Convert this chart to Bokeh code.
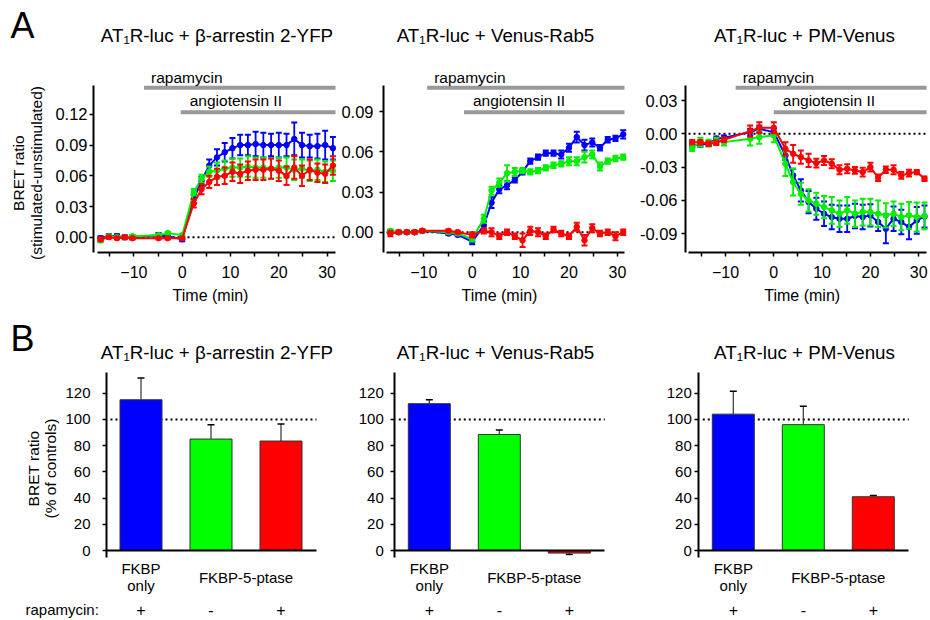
import math
from bokeh.plotting import figure
from bokeh.layouts import column, row
from bokeh.models import ColumnDataSource, FixedTicker, NumeralTickFormatter, Range1d, LinearAxis
from bokeh.embed import file_html
from bokeh.resources import INLINE
from bokeh.core.properties import value

FONT = "Liberation Sans"

# ---------------- data ----------------
TIME = [-16.9, -15.2, -13.5, -11.9, -10.3, -4.9, -3.0, 0.0,
        2.4, 4.0, 5.6, 7.2, 8.8, 10.4, 12.0, 13.6, 15.2, 16.8,
        18.4, 20.0, 21.6, 23.2, 24.8, 26.4, 28.0, 29.6, 31.2]

PANEL_TITLES = ["AT\u2081R-luc + \u03b2-arrestin 2-YFP", "AT\u2081R-luc + Venus-Rab5", "AT\u2081R-luc + PM-Venus"]
SERIES_COLORS = ["#0000FF", "#00EE00", "#FF0000"]
BAR_COLORS = ["#0000FF", "#00FF00", "#FF0000"]

# beta-arrestin 2
ARR_BLUE = [-0.001, 0.001, 0.001, 0.000, 0.000, 0.002, 0.001, -0.002,
            0.0375, 0.055, 0.070, 0.078, 0.083, 0.087, 0.090, 0.090, 0.091, 0.090,
            0.090, 0.090, 0.090, 0.096, 0.090, 0.089, 0.089, 0.090, 0.087]
ARR_BLUE_ERR = [0.002, 0.002, 0.002, 0.002, 0.002, 0.002, 0.002, 0.002,
                0.004, 0.004, 0.006, 0.008, 0.009, 0.010, 0.010, 0.010, 0.012, 0.012,
                0.011, 0.012, 0.011, 0.016, 0.012, 0.011, 0.012, 0.014, 0.011]
ARR_GREEN = [-0.003, 0.001, 0.000, 0.000, 0.001, 0.002, 0.004, 0.002,
             0.044, 0.057, 0.064, 0.065, 0.067, 0.068, 0.068, 0.069, 0.068, 0.068,
             0.067, 0.068, 0.068, 0.066, 0.067, 0.065, 0.066, 0.064, 0.065]
ARR_GREEN_ERR = [0.002, 0.001, 0.001, 0.001, 0.001, 0.001, 0.001, 0.001,
                 0.003, 0.004, 0.005, 0.008, 0.008, 0.009, 0.009, 0.010, 0.010, 0.010,
                 0.010, 0.010, 0.010, 0.010, 0.009, 0.010, 0.010, 0.010, 0.010]
ARR_RED = [-0.002, 0.000, -0.001, 0.000, -0.001, -0.001, -0.001, -0.001,
           0.033, 0.047, 0.054, 0.059, 0.060, 0.064, 0.062, 0.065, 0.066, 0.066,
           0.067, 0.065, 0.060, 0.068, 0.060, 0.066, 0.063, 0.062, 0.070]
ARR_RED_ERR = [0.002, 0.001, 0.001, 0.001, 0.001, 0.001, 0.001, 0.001,
               0.004, 0.005, 0.006, 0.008, 0.008, 0.009, 0.009, 0.009, 0.010, 0.010,
               0.010, 0.010, 0.009, 0.011, 0.010, 0.010, 0.009, 0.009, 0.009]

# Venus-Rab5
RAB_BLUE = [0.000, 0.000, 0.000, 0.000, 0.001, -0.001, -0.002, -0.007,
            0.005, 0.022, 0.032, 0.035, 0.039, 0.045, 0.053, 0.056, 0.059, 0.059,
            0.058, 0.063, 0.071, 0.065, 0.067, 0.063, 0.069, 0.070, 0.073]
RAB_BLUE_ERR = [0.001, 0.001, 0.001, 0.001, 0.001, 0.001, 0.001, 0.002,
                0.003, 0.004, 0.003, 0.003, 0.002, 0.002, 0.002, 0.002, 0.002, 0.002,
                0.003, 0.003, 0.004, 0.004, 0.003, 0.002, 0.002, 0.002, 0.003]
RAB_GREEN = [0.001, 0.000, 0.000, 0.000, 0.001, 0.000, -0.001, -0.005,
             0.010, 0.031, 0.037, 0.044, 0.045, 0.046, 0.045, 0.046, 0.048, 0.050,
             0.051, 0.053, 0.053, 0.056, 0.058, 0.049, 0.053, 0.055, 0.056]
RAB_GREEN_ERR = [0.001, 0.001, 0.001, 0.001, 0.001, 0.001, 0.001, 0.002,
                 0.003, 0.003, 0.003, 0.006, 0.003, 0.002, 0.002, 0.002, 0.002, 0.002,
                 0.002, 0.003, 0.003, 0.004, 0.003, 0.003, 0.002, 0.002, 0.002]
RAB_RED = [-0.001, 0.000, 0.000, 0.000, 0.001, 0.001, 0.000, -0.002,
           0.001, 0.000, -0.003, 0.000, -0.003, -0.006, 0.001, 0.000, -0.003, 0.002,
           -0.001, -0.003, 0.004, -0.006, 0.003, -0.001, 0.000, -0.003, 0.000]
RAB_RED_ERR = [0.002, 0.001, 0.001, 0.001, 0.001, 0.001, 0.001, 0.002,
               0.002, 0.003, 0.002, 0.002, 0.002, 0.005, 0.003, 0.003, 0.002, 0.002,
               0.002, 0.002, 0.003, 0.004, 0.003, 0.002, 0.002, 0.003, 0.002]

# PM-Venus
PM_BLUE = [-0.0105, -0.0096, -0.009, -0.0045, -0.0036, 0.0015, 0.0045, 0.0015,
           -0.0195, -0.0375, -0.051, -0.0615, -0.0675, -0.072, -0.075, -0.0765, -0.0765, -0.074,
           -0.075, -0.0735, -0.0795, -0.0855, -0.0765, -0.0795, -0.084, -0.078, -0.0745]
PM_BLUE_ERR = [0.002, 0.002, 0.002, 0.002, 0.002, 0.003, 0.003, 0.003,
               0.004, 0.006, 0.010, 0.010, 0.010, 0.011, 0.011, 0.012, 0.012, 0.011,
               0.011, 0.010, 0.008, 0.013, 0.011, 0.011, 0.011, 0.012, 0.010]
PM_GREEN = [-0.0126, -0.0075, -0.0084, -0.0066, -0.0075, -0.0045, -0.003, -0.0015,
            -0.027, -0.0435, -0.054, -0.060, -0.063, -0.066, -0.069, -0.072, -0.069, -0.072,
            -0.0705, -0.0705, -0.072, -0.0735, -0.072, -0.075, -0.0735, -0.075, -0.074]
PM_GREEN_ERR = [0.003, 0.004, 0.003, 0.003, 0.003, 0.006, 0.006, 0.006,
                0.011, 0.012, 0.010, 0.010, 0.010, 0.010, 0.012, 0.012, 0.012, 0.012,
                0.012, 0.012, 0.012, 0.011, 0.011, 0.012, 0.012, 0.013, 0.012]
PM_RED = [-0.0075, -0.0075, -0.009, -0.008, -0.0054, 0.0024, 0.0054, 0.0054,
          -0.0135, -0.018, -0.021, -0.024, -0.0264, -0.024, -0.027, -0.0324, -0.0315, -0.033,
          -0.0345, -0.030, -0.0396, -0.0324, -0.0324, -0.0375, -0.0354, -0.0345, -0.0405]
PM_RED_ERR = [0.002, 0.002, 0.002, 0.002, 0.002, 0.005, 0.005, 0.005,
              0.006, 0.008, 0.006, 0.006, 0.004, 0.004, 0.004, 0.004, 0.004, 0.003,
              0.004, 0.004, 0.003, 0.003, 0.004, 0.003, 0.003, 0.002, 0.002]

SERIES = [
    [(ARR_BLUE, ARR_BLUE_ERR), (ARR_GREEN, ARR_GREEN_ERR), (ARR_RED, ARR_RED_ERR)],
    [(RAB_BLUE, RAB_BLUE_ERR), (RAB_GREEN, RAB_GREEN_ERR), (RAB_RED, RAB_RED_ERR)],
    [(PM_BLUE, PM_BLUE_ERR), (PM_GREEN, PM_GREEN_ERR), (PM_RED, PM_RED_ERR)],
]

# treatment start times (min)
RAPA_START = [-7.9, -9.3, -7.9]
ANG_START = [-0.3, -1.7, 0.0]

# bar charts (% of controls)
BAR_X = [1, 2, 3]
BAR_ARR = [115.0, 85.0, 83.5]
BAR_ARR_ERR = [16.5, 11.0, 13.0]
BAR_RAB = [112.0, 88.5, -2.0]
BAR_RAB_ERR = [3.0, 3.5, 1.0]
BAR_PM = [104.0, 96.0, 41.0]
BAR_PM_ERR = [17.5, 14.0, 1.0]
BARS = [(BAR_ARR, BAR_ARR_ERR), (BAR_RAB, BAR_RAB_ERR), (BAR_PM, BAR_PM_ERR)]
RAPA_SIGNS = ["+", "-", "+"]
CONTROL_LEVEL = 100

TOP_YTICKS = [[0, 0.03, 0.06, 0.09, 0.12], [0, 0.03, 0.06, 0.09], [-0.09, -0.06, -0.03, 0, 0.03]]
BOT_YTICKS = [0, 20, 40, 60, 80, 100, 120]

# ---------------- layout (page pixels; the page starts at 0,0) ----------------
TOP_Y, TOP_H = 0, 306
TOP_CFG = [
    dict(left=0, W=340, X0=181.7, sx=4.83, Y0=236.7, sy=1023.3, ax=93, ax_top=85, xb=(97, 335), so=2,
         title_x=216.5, time_x=210),
    dict(left=340, W=288, X0=471.7, sx=4.84, Y0=231.7, sy=1340.0, ax=383, ax_top=85, xb=(386, 624), so=6,
         title_x=495, time_x=499),
    dict(left=628, W=300, X0=773.3, sx=4.83, Y0=133.3, sy=1110.0, ax=685, ax_top=85, xb=(688, 926), so=4,
         title_x=804, time_x=801.7),
]
AX_BOTTOM = 252
BOT_Y, BOT_H = 306, 312
BOT_CFG = [
    dict(left=0, W=340, X0=70.5, so=12, title_x=216.5),
    dict(left=340, W=288, X0=358.8, so=7, title_x=495),
    dict(left=628, W=300, X0=662.8, so=3, title_x=804),
]
BOT_SX, BOT_Y0, BOT_SY = 70.0, 550.0, 1.311


class Map:
    def __init__(self, X0, sx, Y0, sy):
        self.X0, self.sx, self.Y0, self.sy = X0, sx, Y0, sy

    def x(self, X):
        return (X - self.X0) / self.sx

    def y(self, Y):
        return (self.Y0 - Y) / self.sy


def base_fig(m, left, W, top, H):
    p = figure(width=W, height=H,
               x_range=Range1d(m.x(left), m.x(left + W)),
               y_range=Range1d(m.y(top + H), m.y(top)),
               output_backend="svg", toolbar_location=None,
               x_axis_location=None, y_axis_location=None,
               min_border_left=0, min_border_right=0, min_border_top=0, min_border_bottom=0)
    p.outline_line_color = None
    p.xgrid.visible = False
    p.ygrid.visible = False
    p.background_fill_color = "white"
    p.border_fill_color = "white"
    return p


def style_axis(ax, size, so):
    ax.axis_line_width = 2
    ax.axis_line_color = "black"
    ax.major_tick_line_width = 1.5
    ax.minor_tick_line_width = 1.5
    ax.major_tick_in = 0
    ax.major_tick_out = 4
    ax.minor_tick_in = 0
    ax.minor_tick_out = 4
    ax.major_label_text_font = FONT
    ax.major_label_text_font_size = size
    ax.major_label_text_color = "black"
    ax.major_label_standoff = so


def txt(p, x, y, text, size="15px", align="center", angle=0.0):
    p.text(x=[x], y=[y], text=[text], text_font=value(FONT), text_font_size=size,
           text_align=align, text_baseline="middle", angle=angle, text_color="black")


tops = []
for i, c in enumerate(TOP_CFG):
    m = Map(c["X0"], c["sx"], c["Y0"], c["sy"])
    p = base_fig(m, c["left"], c["W"], TOP_Y, TOP_H)

    xa = LinearAxis(fixed_location=m.y(AX_BOTTOM))
    style_axis(xa, "16px", 9)
    xa.ticker = FixedTicker(ticks=[-10, 0, 10, 20, 30], minor_ticks=[-15, -5, 5, 15, 25])
    xa.bounds = (m.x(c["xb"][0]), m.x(c["xb"][1]))
    p.add_layout(xa, "below")

    ya = LinearAxis(fixed_location=m.x(c["ax"]))
    style_axis(ya, "16.5px", c["so"])
    ya.ticker = FixedTicker(ticks=TOP_YTICKS[i], minor_ticks=[])
    ya.formatter = NumeralTickFormatter(format="0.00")
    ya.bounds = (m.y(AX_BOTTOM), m.y(c["ax_top"]))
    p.add_layout(ya, "left")

    x_end = m.x(c["xb"][1])
    x_begin = m.x(c["xb"][0])
    # zero reference line
    p.segment(x0=[x_begin], y0=[0], x1=[x_end], y1=[0], line_color="black", line_width=2,
              line_dash="2 3")

    # treatment bars
    y_rapa = m.y(87.3)
    y_ang = m.y(111.7)
    p.segment(x0=[RAPA_START[i], ANG_START[i]], y0=[y_rapa, y_ang], x1=[x_end, x_end], y1=[y_rapa, y_ang],
              line_color="#999999", line_width=4, line_cap="butt")
    txt(p, RAPA_START[i] + 7 / c["sx"], m.y(76.7), "rapamycin", size="15.5px", align="left")
    txt(p, ANG_START[i] + 9 / c["sx"], m.y(100.0), "angiotensin II", size="15.5px", align="left")

    for (vals, errs), col in zip(SERIES[i], SERIES_COLORS):
        lo = [v - e for v, e in zip(vals, errs)]
        hi = [v + e for v, e in zip(vals, errs)]
        src = ColumnDataSource(dict(t=TIME, v=vals, lo=lo, hi=hi))
        p.segment(x0="t", y0="lo", x1="t", y1="hi", source=src, line_color=col, line_width=1.8)
        p.scatter(x="t", y="lo", source=src, marker="dash", size=6, line_color=col, line_width=2)
        p.scatter(x="t", y="hi", source=src, marker="dash", size=6, line_color=col, line_width=2)
        p.line(x="t", y="v", source=src, line_color=col, line_width=2)
        p.scatter(x="t", y="v", source=src, marker="circle", size=5.5, fill_color=col, line_color=col)

    txt(p, m.x(c["title_x"]), m.y(35), PANEL_TITLES[i], size="18.8px")
    txt(p, m.x(c["time_x"]), m.y(295), "Time (min)", size="16px")
    if i == 0:
        txt(p, m.x(10), m.y(25), "A", size="36px", align="left")
        txt(p, m.x(18), m.y(172.5), "BRET ratio", size="15.5px", angle=math.pi / 2)
        txt(p, m.x(36), m.y(172.5), "(stimulated-unstimulated)", size="15.5px", angle=math.pi / 2)
    tops.append(p)

bots = []
for i, c in enumerate(BOT_CFG):
    m = Map(c["X0"], BOT_SX, BOT_Y0, BOT_SY)
    p = base_fig(m, c["left"], c["W"], BOT_Y, BOT_H)
    ax_x = 0.507
    ax_end = 3.507

    ya = LinearAxis(fixed_location=ax_x)
    style_axis(ya, "15px", c["so"])
    ya.ticker = FixedTicker(ticks=BOT_YTICKS, minor_ticks=[])
    ya.bounds = (m.y(557), 136)
    p.add_layout(ya, "left")

    p.segment(x0=[0.564], y0=[CONTROL_LEVEL], x1=[ax_end], y1=[CONTROL_LEVEL],
              line_color="black", line_width=2, line_dash="2 3")

    vals, errs = BARS[i]
    ends = [v + e if v >= 0 else v - e for v, e in zip(vals, errs)]
    src = ColumnDataSource(dict(x=BAR_X, v=vals, end=ends, color=BAR_COLORS))
    p.segment(x0="x", y0="v", x1="x", y1="end", source=src, line_color="#333333", line_width=1.2)
    p.scatter(x="x", y="end", source=src, marker="dash", size=7, line_color="black", line_width=1.5)
    p.vbar(x="x", top="v", bottom=0, width=0.6, source=src, fill_color="color",
           line_color="#333333", line_width=1)

    xa = LinearAxis(fixed_location=0)
    xa.axis_line_width = 2
    xa.axis_line_color = "black"
    xa.ticker = FixedTicker(ticks=[], minor_ticks=[])
    xa.major_label_text_font_size = "0px"
    xa.major_tick_line_color = None
    xa.minor_tick_line_color = None
    xa.bounds = (ax_x, ax_end)
    p.add_layout(xa, "below")

    txt(p, m.x(c["title_x"]), m.y(351.7), PANEL_TITLES[i], size="18.8px")
    txt(p, BAR_X[0], m.y(568), "FKBP")
    txt(p, BAR_X[0], m.y(585), "only")
    txt(p, (BAR_X[1] + BAR_X[2]) / 2, m.y(576.5), "FKBP-5-ptase")
    for xb, s in zip(BAR_X, RAPA_SIGNS):
        txt(p, xb, m.y(609), s, size="16px")
    if i == 0:
        txt(p, m.x(10), m.y(338), "B", size="36px", align="left")
        txt(p, m.x(25), m.y(609), "rapamycin:", size="15px", align="left")
        txt(p, m.x(33), m.y(468), "BRET ratio", size="15.5px", angle=math.pi / 2)
        txt(p, m.x(50), m.y(468), "(% of controls)", size="15.5px", angle=math.pi / 2)
    bots.append(p)

layout = column(row(*tops), row(*bots))
open("out.html", "w").write(file_html(layout, INLINE))
